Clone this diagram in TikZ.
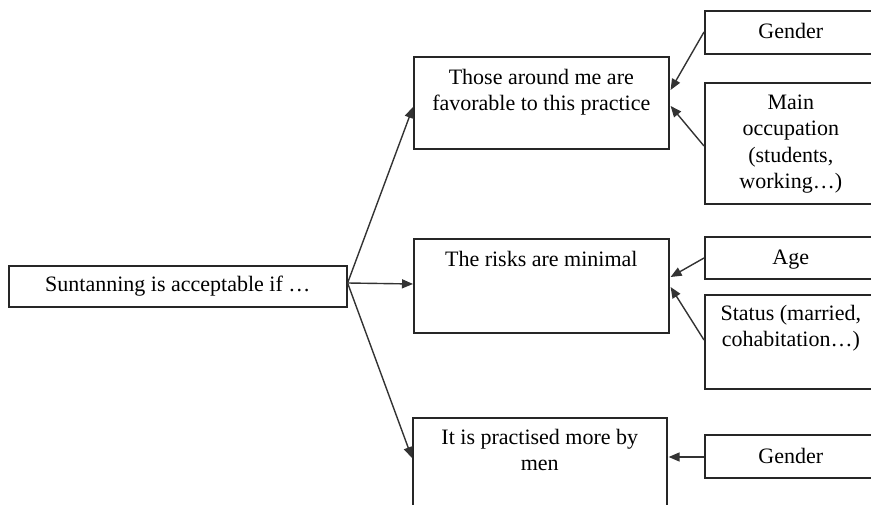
\documentclass[tikz,border=0pt]{standalone}
\usepackage{fontspec}
\setmainfont{Liberation Serif}
\usetikzlibrary{arrows.meta,calc}
\tikzset{
  box/.style={draw=black!85, line width=1.6pt, rectangle, anchor=north west, inner sep=0pt},
  lbl/.style={anchor=north, inner sep=0pt, align=center, font=\fontsize{22}{26.5}\selectfont},
  arr/.style={draw=black!80, line width=1.4pt, -{Triangle[length=11pt,width=9pt]}}
}
\begin{document}
\begin{tikzpicture}[x=1pt,y=-1pt]
\useasboundingbox (0,0) rectangle (871,505);
\clip (0,0) rectangle (871,505);
% left box
\node[box, minimum width=338pt, minimum height=41pt, font=\fontsize{22}{26.5}\selectfont] (lb) at (8,265) {Suntanning is acceptable if …};
% middle boxes
\node[box, minimum width=255pt, minimum height=92pt] (b1) at (413,56) {};
\node[box, minimum width=255pt, minimum height=94pt] (b2) at (413,238) {};
\node[box, minimum width=254pt, minimum height=100pt] (b3) at (412,417) {};
% right boxes
\node[box, minimum width=172pt, minimum height=43pt] (g1) at (704,10) {};
\node[box, minimum width=172pt, minimum height=121pt] (occ) at (704,82) {};
\node[box, minimum width=172pt, minimum height=42pt] (age) at (704,236) {};
\node[box, minimum width=172pt, minimum height=94pt] (st) at (704,294) {};
\node[box, minimum width=172pt, minimum height=43pt] (g2) at (704,434) {};
% texts
\node[lbl] (t1) at ([yshift=-9.5pt]b1.north) {\strut Those around me are\\favorable to this practice};
\node[lbl] (t2) at ([yshift=-9.5pt]b2.north) {\strut The risks are minimal};
\node[lbl] (t3) at ([yshift=-8.5pt]b3.north) {\strut It is practised more by\\men};
\node[lbl] (tg1) at ([yshift=-9.5pt]g1.north) {\strut Gender};
\node[lbl] (tocc) at ([yshift=-8.5pt]occ.north) {\strut Main\\occupation\\(students,\\working…)};
\node[lbl] (tage) at ([yshift=-9.5pt]age.north) {\strut Age};
\node[lbl] (tst) at ([yshift=-7.5pt]st.north) {\strut Status (married,\\cohabitation…)};
\node[lbl] (tg2) at ([yshift=-10.5pt]g2.north) {\strut Gender};
% connectors from left box
\coordinate (split) at ($(lb.north east)+(0,18)$);
\draw[arr] (split) -- ($(b1.north west)+(0,51)$);
\draw[arr] (split) -- ($(b2.north west)+(0,46)$);
\draw[arr] (split) -- ($(b3.north west)+(0,41)$);
% connectors from right boxes
\draw[arr] ($(g1.north west)+(0,22)$) -- ($(b1.north east)+(1,34)$);
\draw[arr] ($(occ.north west)+(0,64)$) -- ($(b1.north east)+(1,50)$);
\draw[arr] ($(age.north west)+(0,22)$) -- ($(b2.north east)+(1,39)$);
\draw[arr] ($(st.north west)+(0,46)$) -- ($(b2.north east)+(1,49)$);
\draw[arr] ($(g2.north west)+(0,23)$) -- ($(b3.north east)+(1,40)$);
\end{tikzpicture}
\end{document}
